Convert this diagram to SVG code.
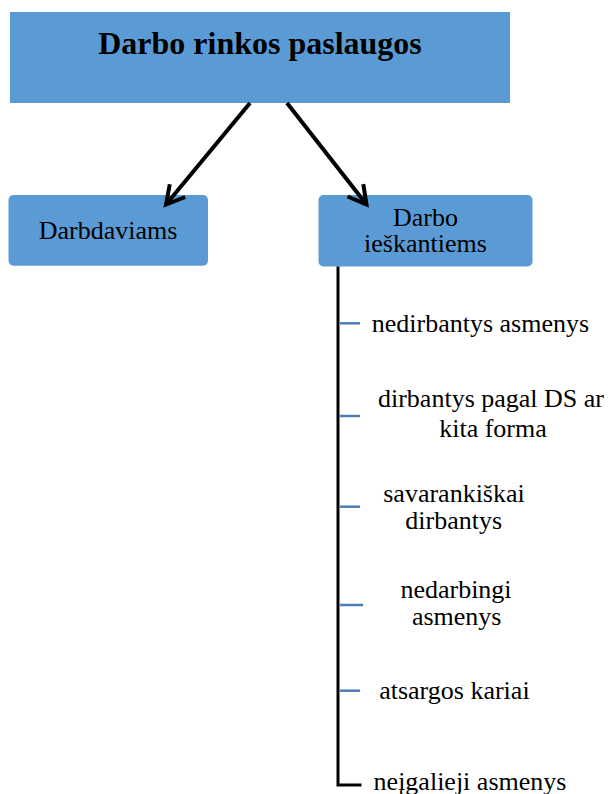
<svg xmlns="http://www.w3.org/2000/svg" width="611" height="794" viewBox="0 0 611 794">
  <style>
    .box { fill: #5B9BD5; }
    .title { font-family: "Liberation Serif", "Times New Roman", serif; font-size: 32px; font-weight: bold; fill: #000; text-anchor: middle; }
    .label { font-family: "Liberation Serif", "Times New Roman", serif; font-size: 26px; fill: #000; text-anchor: middle; }
    .arrow { stroke: #000; stroke-width: 4; fill: none; }
    .trunk { stroke: #000; stroke-width: 3; fill: none; }
    .tick { stroke: #4A7EBB; stroke-width: 2.5; fill: none; }
  </style>
  <defs>
    <marker id="vhead" markerUnits="userSpaceOnUse" orient="auto" markerWidth="30" markerHeight="30" viewBox="-24 -15 30 30" refX="0" refY="0" overflow="visible">
      <path d="M -18 -10 L 0 0 L -18 10" fill="none" stroke="#000" stroke-width="4" stroke-linejoin="miter"/>
    </marker>
  </defs>

  <rect width="611" height="794" fill="#fff"/>

  <g id="node-root">
    <rect class="box" x="10" y="12" width="500" height="91"/>
    <text class="title" x="260" y="53.5">Darbo rinkos paslaugos</text>
  </g>

  <g id="node-employers">
    <rect class="box" x="8.5" y="195" width="199.5" height="70.7" rx="5"/>
    <text class="label" x="108" y="239">Darbdaviams</text>
  </g>

  <g id="node-jobseekers">
    <rect class="box" x="318.5" y="195" width="214" height="71.5" rx="5"/>
    <text class="label" x="425.5" y="225.7">Darbo</text>
    <text class="label" x="425.5" y="251.7">ieškantiems</text>
  </g>

  <g id="connectors">
    <line class="arrow" x1="250" y1="103" x2="166" y2="204.5" marker-end="url(#vhead)"/>
    <line class="arrow" x1="287" y1="103" x2="366.5" y2="204.5" marker-end="url(#vhead)"/>
    <path class="trunk" d="M 338 266.5 V 785 H 361.5"/>
    <line class="tick" x1="339.5" y1="323.3" x2="360" y2="323.3"/>
    <line class="tick" x1="339.5" y1="416" x2="360" y2="416"/>
    <line class="tick" x1="339.5" y1="506.7" x2="360" y2="506.7"/>
    <line class="tick" x1="339.5" y1="605" x2="363" y2="605"/>
    <line class="tick" x1="339.5" y1="690.7" x2="360" y2="690.7"/>
  </g>

  <g id="item-unemployed">
    <text class="label" x="480.4" y="331.7">nedirbantys asmenys</text>
  </g>
  <g id="item-contract">
    <text class="label" x="491" y="407.3">dirbantys pagal DS ar</text>
    <text class="label" x="493" y="436.7">kita forma</text>
  </g>
  <g id="item-selfemployed">
    <text class="label" x="454" y="501.7">savarankiškai</text>
    <text class="label" x="453.7" y="529.3">dirbantys</text>
  </g>
  <g id="item-unfit">
    <text class="label" x="456" y="598.3">nedarbingi</text>
    <text class="label" x="456.7" y="625">asmenys</text>
  </g>
  <g id="item-reserve">
    <text class="label" x="454.4" y="699">atsargos kariai</text>
  </g>
  <g id="item-disabled">
    <text class="label" x="470" y="789.5">neįgalieji asmenys</text>
  </g>
</svg>
